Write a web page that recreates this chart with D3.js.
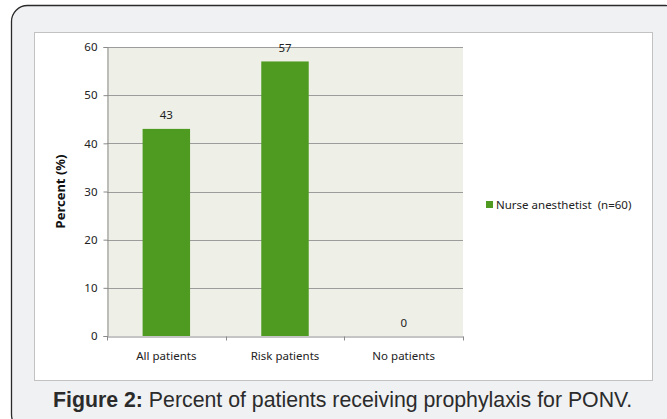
<!DOCTYPE html>
<html>
<head>
<meta charset="utf-8">
<script src="https://cdn.jsdelivr.net/npm/d3@7"></script>
<style>
  body { margin: 0; background: #fff; }
</style>
</head>
<body>
<div id="chart"></div>
<script>
const categories = ["All patients", "Risk patients", "No patients"];
const values = [43, 57, 0];
const yTicks = [0, 10, 20, 30, 40, 50, 60];
const seriesName = "Nurse anesthetist  (n=60)";

const width = 667;
const height = 419;
const font = "'Noto Sans', sans-serif";

const svg = d3.select("#chart")
  .append("svg")
  .attr("width", width)
  .attr("height", height)
  .style("display", "block");

//Outer rounded frame
svg.append("rect")
  .attr("x", 11.5)
  .attr("y", 5.5)
  .attr("width", 670)
  .attr("height", 425)
  .attr("rx", 16)
  .attr("fill", "#f0f1f3")
  .attr("stroke", "#2a2a2a")
  .attr("stroke-width", 1.3);

//White chart area
svg.append("rect")
  .attr("x", 34.5)
  .attr("y", 32.5)
  .attr("width", 618)
  .attr("height", 348)
  .attr("fill", "#fff")
  .attr("stroke", "#c2c2c2")
  .attr("stroke-width", 1);

const plot = { left: 107, top: 47, right: 463, bottom: 336 };

const x = d3.scaleBand()
  .domain(categories)
  .range([plot.left, plot.right])
  .paddingInner(0.6)
  .paddingOuter(0.3);

const y = d3.scaleLinear()
  .domain([0, 60])
  .range([plot.bottom, plot.top]);

//Plot background
svg.append("rect")
  .attr("x", plot.left)
  .attr("y", plot.top)
  .attr("width", plot.right - plot.left)
  .attr("height", plot.bottom - plot.top)
  .attr("fill", "#eef0e8");

//Gridlines
svg.append("g")
  .selectAll("line")
  .data(yTicks.filter(d => d > 0))
  .join("line")
  .attr("x1", plot.left)
  .attr("x2", plot.right)
  .attr("y1", d => Math.round(y(d)) + 0.5)
  .attr("y2", d => Math.round(y(d)) + 0.5)
  .attr("stroke", "#9c9c9c")
  .attr("stroke-width", 1);

//Bars
svg.append("g")
  .selectAll("rect")
  .data(values)
  .join("rect")
  .attr("x", (d, i) => x(categories[i]))
  .attr("y", d => y(d))
  .attr("width", x.bandwidth())
  .attr("height", d => plot.bottom - y(d))
  .attr("fill", "#4f9b22");

//Value labels
svg.append("g")
  .selectAll("text")
  .data(values)
  .join("text")
  .attr("x", (d, i) => x(categories[i]) + x.bandwidth() / 2)
  .attr("y", d => y(d) - 9.5)
  .attr("text-anchor", "middle")
  .attr("font-family", font)
  .attr("font-size", "11.5px")
  .attr("fill", "#222")
  .text(d => d);

//Y axis
const yAxis = svg.append("g")
  .attr("transform", `translate(${plot.left + 0.5},0)`)
  .call(d3.axisLeft(y).tickValues(yTicks).tickSize(4).tickPadding(6));
yAxis.select(".domain").attr("stroke", "#8a8a8a");
yAxis.selectAll(".tick line").attr("stroke", "#8a8a8a");
yAxis.selectAll("text")
  .attr("font-family", font)
  .attr("font-size", "11.5px")
  .attr("fill", "#222");

//X axis
const bandEdges = [plot.left, plot.left + (plot.right - plot.left) / 3,
  plot.left + 2 * (plot.right - plot.left) / 3, plot.right];
const xAxis = svg.append("g")
  .attr("transform", `translate(0,${plot.bottom + 0.5})`)
  .call(d3.axisBottom(x).tickSize(0).tickPadding(15));
xAxis.select(".domain").attr("stroke", "#8a8a8a");
xAxis.selectAll("text")
  .attr("font-family", font)
  .attr("font-size", "11.5px")
  .attr("fill", "#222");
xAxis.selectAll(".edge")
  .data(bandEdges)
  .join("line")
  .attr("class", "edge")
  .attr("x1", d => Math.round(d) + 0.5)
  .attr("x2", d => Math.round(d) + 0.5)
  .attr("y1", 0)
  .attr("y2", 4)
  .attr("stroke", "#8a8a8a");

//Y axis title
svg.append("text")
  .attr("transform", `translate(65,${(plot.top + plot.bottom) / 2}) rotate(-90)`)
  .attr("text-anchor", "middle")
  .attr("font-family", font)
  .attr("font-weight", "bold")
  .attr("font-size", "13px")
  .attr("fill", "#111")
  .text("Percent (%)");

//Legend
const legend = svg.append("g").attr("transform", "translate(486,201)");
legend.append("rect")
  .attr("width", 7)
  .attr("height", 7)
  .attr("fill", "#4f9b22");
legend.append("text")
  .attr("x", 10)
  .attr("y", 4)
  .attr("dy", "0.35em")
  .attr("font-family", font)
  .attr("font-size", "11.5px")
  .attr("fill", "#222")
  .style("white-space", "pre")
  .text(seriesName);

//Caption
const caption = svg.append("text")
  .attr("x", 53)
  .attr("y", 407)
  .attr("font-family", "'Liberation Sans', Arial, sans-serif")
  .attr("font-size", "21.3px")
  .attr("fill", "#2b2b2b");
caption.append("tspan").attr("font-weight", "bold").text("Figure 2:");
caption.append("tspan").text(" Percent of patients receiving prophylaxis for PONV.");
</script>
</body>
</html>
